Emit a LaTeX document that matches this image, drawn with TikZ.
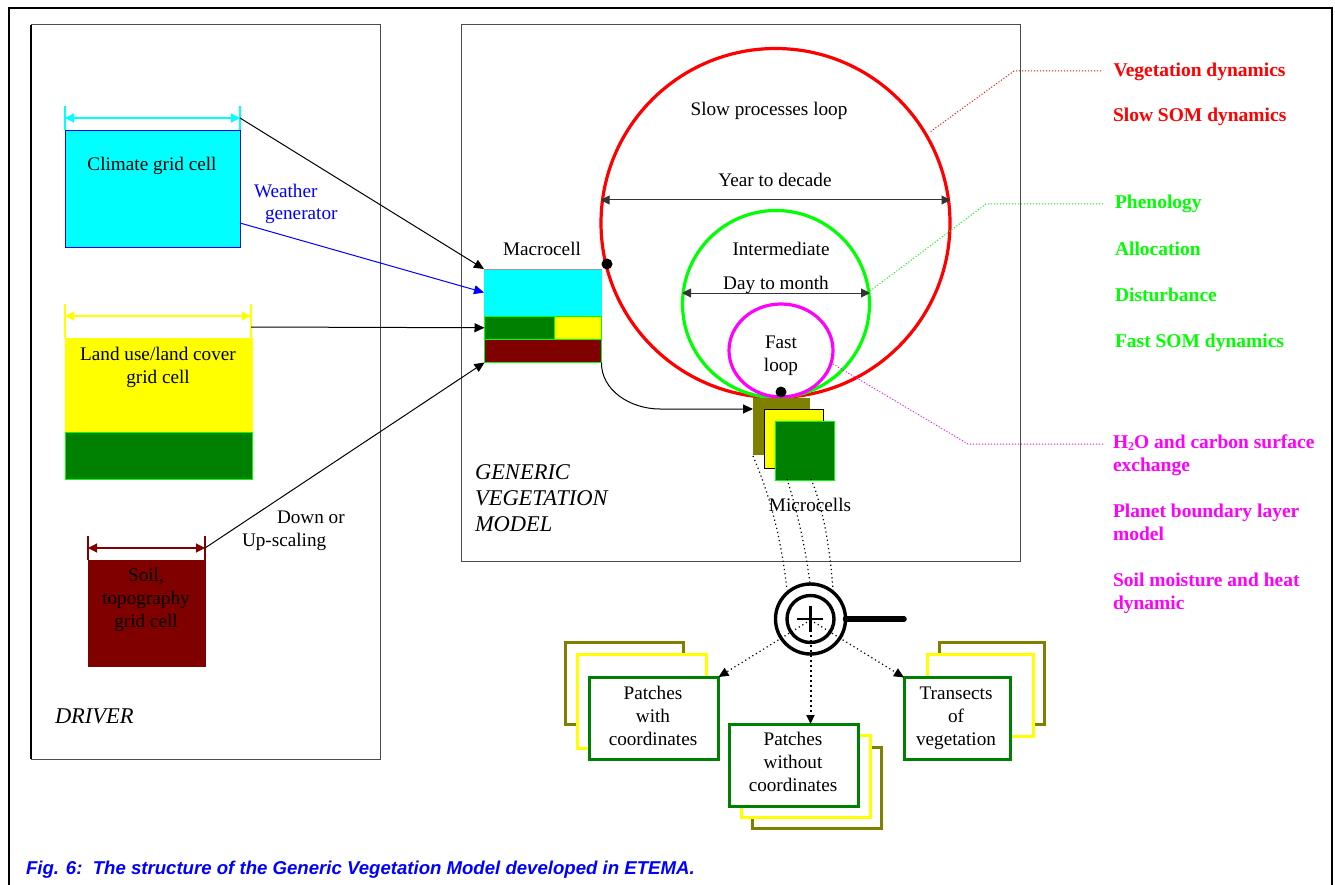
\documentclass[tikz,border=0pt]{standalone}
\usepackage{fontspec}
\setmainfont{Liberation Serif}
\newfontfamily\capfont{Liberation Sans}
\usetikzlibrary{arrows.meta,shapes.geometric}
\definecolor{cgreen}{RGB}{0,128,0}
\definecolor{lgreen}{RGB}{0,255,0}
\definecolor{olive2}{RGB}{128,128,0}
\definecolor{maroon2}{RGB}{128,0,0}
\definecolor{pcyan}{RGB}{0,255,255}
\definecolor{pmag}{RGB}{255,0,255}
\definecolor{pyel}{RGB}{255,255,0}
\definecolor{pred}{RGB}{255,0,0}
\definecolor{pblue}{RGB}{0,0,255}
\tikzset{x=1pt,y=-1pt,
 every node/.style={outer sep=0pt},
 tx/.style={font=\fontsize{19.2}{23}\selectfont,align=center,inner sep=0pt,text=black},
 it/.style={font=\fontsize{22.5}{26}\selectfont\itshape,align=left,inner sep=0pt,anchor=north west},
 lab/.style={font=\fontsize{19.5}{23}\selectfont\bfseries,align=left,inner sep=0pt,anchor=base west},
 tip/.style={-{Triangle[length=10pt,width=9pt]}},
 dim/.style={{Triangle[length=9pt,width=9pt]}-{Triangle[length=9pt,width=9pt]}},
 frame/.style={draw=black!70,line width=1pt},
 patch/.style={draw=#1,fill=white,line width=3pt,inner sep=0pt,anchor=north west},
 leader/.style={dotted,line width=1pt},
 ddot/.style={dash pattern=on 1.2pt off 3pt,line width=1.2pt}}
\begin{document}
\begin{tikzpicture}
\useasboundingbox (0,0) rectangle (1335,885);
\fill[white] (0,0) rectangle (1335,885);
\draw[black,line width=1.6pt] (9,885) -- (9,8) -- (1332,8) -- (1332,885);
% panels
\node[frame,minimum width=349pt,minimum height=734pt,inner sep=0pt,anchor=north west] (driver) at (31,25) {};
\draw[black,line width=1.6pt] (driver.north west) -- (driver.south west);
\node[frame,minimum width=559pt,minimum height=536pt,inner sep=0pt,anchor=north west] (gvm) at (461,25) {};
\node[it] (drivertxt) at (55,708.5) {DRIVER};
\node[it] (gvmtxt) at (475,465) {GENERIC\\VEGETATION\\MODEL};
% climate
\draw[pcyan,line width=1.2pt] (65,106)--(65,130) (240,106)--(240,130);
\coordinate (climl) at (65,118);
\coordinate (climtop) at (240,118);
\draw[pcyan,dim,line width=1.2pt] (climl)--(climtop);
\node[draw=pblue,fill=pcyan,line width=.8pt,minimum width=175pt,minimum height=117pt,inner sep=0pt,anchor=north west] (climate) at (65,130) {};
\coordinate (climside) at (240,223);
\node[tx] (climtxt) at (152,166) {Climate grid cell};
\node[tx,anchor=north west] (weather) at (254,184) {\textcolor{pblue}{Weather}};
\node[tx,anchor=north west] (gen) at (265,209) {\textcolor{pblue}{generator}};
% land use
\draw[pyel,line width=1.2pt] (65,304)--(65,338) (251,304)--(251,338);
\coordinate (landl) at (65,316);
\coordinate (landr) at (251,316);
\draw[pyel,dim,line width=1.2pt] (landl)--(landr);
\node[draw=pyel,fill=pyel,line width=.8pt,minimum width=187pt,minimum height=94pt,inner sep=0pt,anchor=north west] (land) at (65,338) {};
\node[draw=lgreen,fill=cgreen,line width=.8pt,minimum width=187pt,minimum height=47pt,inner sep=0pt,anchor=north west] (landb) at (65,432) {};
\coordinate (landside) at (251,327);
\node[tx] (landtxt) at (158,367) {Land use/land cover\\grid cell};
% soil
\draw[maroon2,line width=1.2pt] (88,536)--(88,560) (205,536)--(205,560);
\coordinate (soill) at (88,548);
\coordinate (soiltop) at (205,548);
\draw[maroon2,dim,line width=1.2pt] (soill)--(soiltop);
\node[draw=maroon2,fill=maroon2,minimum width=117pt,minimum height=106pt,inner sep=0pt,anchor=north west] (soil) at (88,560) {};
\node[tx] (soiltxt2) at (146,600) {Soil,\\topography\\grid cell};
\node[tx,anchor=north west] (down) at (277,511) {Down or};
\node[tx,anchor=north west] (up) at (242,533) {Up-scaling};
% macrocell
\node[tx] (macrotxt) at (542,249) {Macrocell};
\node[fill=pcyan,minimum width=118pt,minimum height=47pt,inner sep=0pt,anchor=north west] (mc) at (484,269) {};
\draw[black!40,line width=.8pt] (mc.north west)--(mc.north east);
\node[draw=lgreen,fill=cgreen,line width=1pt,minimum width=70pt,minimum height=23.5pt,inner sep=0pt,anchor=north west] (mg) at (484.5,316) {};
\node[draw=lgreen,fill=pyel,line width=1pt,minimum width=47pt,minimum height=23.5pt,inner sep=0pt,anchor=north west] (my) at (554.5,316) {};
\node[draw=lgreen,fill=maroon2,line width=1pt,minimum width=117pt,minimum height=23pt,inner sep=0pt,anchor=north west] (mm) at (484.5,339.5) {};
\draw[black,tip,line width=1pt] (climtop) -- (mc.north west);
\draw[pblue,tip,line width=1pt] (climside) -- (mc.west);
\draw[black,tip,line width=1pt] (landside) -- (mg.west);
\draw[black,tip,line width=1pt] (soiltop) -- (mm.south west);
% circles
\node[draw=pred,line width=3.2pt,circle,minimum size=349pt,inner sep=0pt] (slow) at (775.5,223) {};
\node[draw=lgreen,line width=3.2pt,circle,minimum size=187pt,inner sep=0pt] (mid) at (776,304) {};
\node[draw=pmag,line width=3.2pt,ellipse,minimum width=104pt,minimum height=93pt,inner sep=0pt] (fast) at (781,350.5) {};
\node[fill=black,circle,minimum size=11pt,inner sep=0pt] (dota) at (607,264) {};
\node[fill=black,circle,minimum size=11pt,inner sep=0pt] (dotb) at (781,392) {};
\node[tx] (slowtxt) at (769,110.5) {Slow processes loop};
\node[tx] (yeartxt) at (775,180) {Year to decade};
\node[tx] (intertxt) at (781,249) {Intermediate};
\node[tx] (daytxt) at (776,285) {Day to month};
\node[tx] (fasttxt) at (781,356) {Fast\\loop};
\coordinate (yl) at (600.5,200); \coordinate (yr) at (950.5,200);
\draw[black!80,dim,line width=1pt] (yl) -- (yr);
\coordinate (dl) at (682,293); \coordinate (dr) at (870,293);
\draw[black!80,dim,line width=1pt] (dl) -- (dr);
% microcells
\node[fill=olive2,minimum width=57pt,minimum height=57pt,inner sep=0pt,anchor=north west] (m1) at (753,398) {};
\node[draw=black,fill=pyel,line width=1pt,minimum width=59pt,minimum height=59pt,inner sep=0pt,anchor=north west] (m2) at (764,409) {};
\node[draw=lgreen,fill=cgreen,line width=1pt,minimum width=59pt,minimum height=59pt,inner sep=0pt,anchor=north west] (m3) at (775.5,421) {};
\coordinate (bend) at (660,409);
\coordinate (mend) at (753,409);
\draw[black,tip,line width=1pt] (mm.south east) .. controls (601,390) and (630,409) .. (bend) -- (mend);
\coordinate (a1) at (753,456);
\coordinate (a2) at (787,590);
\coordinate (b1) at (787,479);
\coordinate (b2) at (810,584);
\coordinate (c1) at (811,479);
\coordinate (c2) at (833,590);
\draw[ddot] (a1) .. controls (772,500) and (782,545) .. (a2);
\draw[ddot] (b1) .. controls (797,510) and (806,550) .. (b2);
\draw[ddot] (c1) .. controls (824,510) and (830,550) .. (c2);
\node[tx] (microtxt) at (810,505) {Microcells};
% lens
\node[draw=black,line width=3.4pt,circle,fill=white,minimum size=70pt,inner sep=0pt] (lens) at (810.5,619) {};
\node[draw=black,line width=3.4pt,circle,minimum size=47pt,inner sep=0pt] (lensin) at (810.5,619) {};
\draw[black,line width=2.8pt] (797,619)--(823,619) (810.5,606)--(810.5,632);
\coordinate (handle) at (904,619);
\draw[black,line width=5.5pt,line cap=round] (lens.east) -- (handle);
% patches left
\node[patch=olive2,minimum width=118pt,minimum height=82pt] (pl1) at (565.5,642) {};
\node[patch=pyel,minimum width=129pt,minimum height=94pt] (pl2) at (577.5,654) {};
\node[patch=cgreen,minimum width=129pt,minimum height=82pt] (pl3) at (589.5,677) {};
\node[tx] (pltxt) at (653,716) {Patches\\with\\coordinates};
% patches mid
\node[patch=olive2,minimum width=129pt,minimum height=81pt] (pm1) at (752.5,747.5) {};
\node[patch=pyel,minimum width=129pt,minimum height=81.5pt] (pm2) at (741,735.5) {};
\node[patch=cgreen,minimum width=129pt,minimum height=82pt] (pm3) at (729,724) {};
\node[tx] (pmtxt) at (793,762) {Patches\\without\\coordinates};
% patches right
\node[patch=olive2,minimum width=105pt,minimum height=82pt] (pr1) at (939,642.5) {};
\node[patch=pyel,minimum width=106pt,minimum height=82pt] (pr2) at (927.5,654) {};
\node[patch=cgreen,minimum width=106pt,minimum height=82pt] (pr3) at (904,677.5) {};
\node[tx] (prtxt) at (956,718) {Transects\\of\\vegetation};
\coordinate (lc) at (810.5,620);
\coordinate (pmt) at (810.5,724);
\draw[black,tip,ddot] (lc) -- (pl3.north east);
\draw[black,-{Triangle[length=9pt,width=8pt]},dash pattern=on 2pt off 3pt,line width=2pt] (lc) -- (pmt);
\draw[black,tip,ddot] (lc) -- (pr3.north west);
% leaders
\coordinate (r1) at (1101,71); \coordinate (r2) at (1014,71); \coordinate (r3) at (930,132);
\draw[pred,leader] (r1)--(r2)--(r3);
\coordinate (g1) at (1103,204); \coordinate (g2) at (986,204); \coordinate (g3) at (870,291);
\draw[lgreen,leader] (g1)--(g2)--(g3);
\coordinate (h1) at (1103,444); \coordinate (h2) at (968,444); \coordinate (h3) at (833,364);
\draw[pmag,leader] (h1)--(h2)--(h3);
% labels
\node[lab,text=pred] (l1) at (1113.5,77) {Vegetation dynamics};
\node[lab,text=pred] (l2) at (1113,122) {Slow SOM dynamics};
\node[lab,text=lgreen] (l3) at (1115,209) {Phenology};
\node[lab,text=lgreen] (l4) at (1115,255) {Allocation};
\node[lab,text=lgreen] (l5) at (1115,301) {Disturbance};
\node[lab,text=lgreen] (l6) at (1115,347) {Fast SOM dynamics};
\node[lab,text=pmag] (l7) at (1113,471) {H\raisebox{-2pt}{\fontsize{12}{12}\selectfont 2}O and carbon surface\\exchange};
\node[lab,text=pmag] (l8) at (1113,540) {Planet boundary layer\\model};
\node[lab,text=pmag] (l9) at (1113,609) {Soil moisture and heat\\dynamic};
\node[anchor=west,inner sep=0pt,text=pblue,font=\capfont\fontsize{18.6}{22}\selectfont\bfseries\itshape] (cap) at (26,870) {Fig. 6:\ \ The structure of the Generic Vegetation Model developed in ETEMA.};
\end{tikzpicture}
\end{document}
